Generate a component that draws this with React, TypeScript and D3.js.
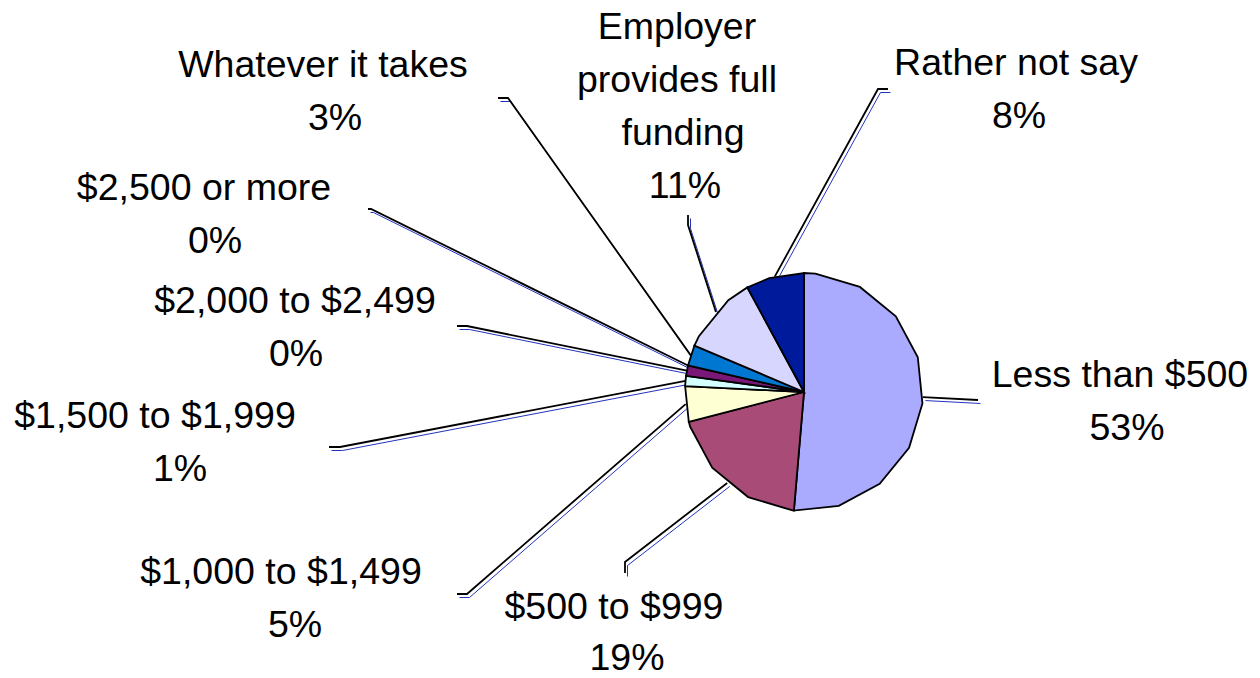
import React from "react";
import * as d3 from "d3";

// ---- data ----
const categories = [
  "Less than $500",
  "$500 to $999",
  "$1,000 to $1,499",
  "$1,500 to $1,999",
  "$2,000 to $2,499",
  "$2,500 or more",
  "Whatever it takes",
  "Employer provides full funding",
  "Rather not say",
];
// slice sizes (percent of the circle)
const shares = [51.3, 19.6, 4.8, 1.4, 1.4, 0, 2.8, 10.7, 7.9];
// percentage labels as printed on the chart
const pctLabels = ["53%", "19%", "5%", "1%", "0%", "0%", "3%", "11%", "8%"];
const nameLines = [
  ["Less than $500"],
  ["$500 to $999"],
  ["$1,000 to $1,499"],
  ["$1,500 to $1,999"],
  ["$2,000 to $2,499"],
  ["$2,500 or more"],
  ["Whatever it takes"],
  ["Employer", "provides full", "funding"],
  ["Rather not say"],
];
const colors = [
  "#AAAAFF",
  "#A84B77",
  "#FFFFD4",
  "#D4FFFF",
  "#7A1878",
  "#FF8080",
  "#0077D0",
  "#D6D6FF",
  "#001A9C",
];

// ---- layout ----
const W = 1260;
const H = 678;
const CX = 804;
const CY = 392;
const R = 119;
const LINE_H = 53;
// label: [name line center xs], first baseline y, pct center x
const labelLayout = [
  { xs: [1120], y: 387, px: 1127 },
  { xs: [614], y: 619, px: 627 },
  { xs: [281], y: 584, px: 295 },
  { xs: [155], y: 428, px: 180 },
  { xs: [295], y: 313, px: 296 },
  { xs: [204], y: 200, px: 215 },
  { xs: [323], y: 77, px: 335 },
  { xs: [677, 677, 683], y: 39, px: 685 },
  { xs: [1016], y: 75, px: 1019 },
];
// leader: elbow point and end point (toward label)
const leaderLayout = [
  { elbow: [978, 400], end: [978, 400] },
  { elbow: [625, 562], end: [625, 573] },
  { elbow: [467, 594], end: [457, 594] },
  { elbow: [340, 447], end: [329, 447] },
  { elbow: [467, 326], end: [457, 326] },
  { elbow: [371, 209], end: [368, 209] },
  { elbow: [508, 98], end: [498, 98] },
  { elbow: [688, 225], end: [688, 215] },
  { elbow: [878, 89], end: [888, 89] },
];

const ptAt = (a: number, r: number): [number, number] => [
  CX + r * Math.sin(a),
  CY - r * Math.cos(a),
];

function slicePath(a0: number, a1: number): string {
  const pts: [number, number][] = [[CX, CY], ptAt(a0, R)];
  for (let k = 0; k < 16; k++) {
    const g = ((5.5 + 22.5 * k) * Math.PI) / 180;
    if (g > a0 + 0.01 && g < a1 - 0.01) pts.push(ptAt(g, R));
  }
  pts.push(ptAt(a1, R));
  return (d3.line()(pts) || "") + "Z";
}

export default function App() {
  const arcs = d3
    .pie<number>()
    .sort(null)
    .value((d) => d)
    .startAngle(0)
    .endAngle(2 * Math.PI)(shares);

  const line = d3.line();
  const font = "'Liberation Sans', Arial, Helvetica, sans-serif";

  return (
    <svg
      width={W}
      height={H}
      viewBox={`0 0 ${W} ${H}`}
      style={{ position: "absolute", left: 0, top: 0, background: "#fff" }}
    >
      {/* leader lines */}
      {arcs.map((a, i) => {
        const mid = (a.startAngle + a.endAngle) / 2;
        const p0 = ptAt(mid, R);
        const L = leaderLayout[i];
        const pts: [number, number][] = [
          p0,
          L.elbow as [number, number],
          L.end as [number, number],
        ];
        const blue: [number, number][] = pts.map(
          ([x, y]) => [x + 2.5, y + 3.5] as [number, number]
        );
        return (
          <g key={"l" + i}>
            <path
              d={line(blue) || ""}
              fill="none"
              stroke="#2233BB"
              strokeWidth={1}
            />
            <path
              d={line(pts) || ""}
              fill="none"
              stroke="#000"
              strokeWidth={1.8}
            />
          </g>
        );
      })}
      {/* slices */}
      {arcs.map((a, i) =>
        a.endAngle - a.startAngle > 0.0001 ? (
          <path
            key={"s" + i}
            d={slicePath(a.startAngle, a.endAngle)}
            fill={colors[i]}
            stroke="#000"
            strokeWidth={1.8}
            strokeLinejoin="miter"
          />
        ) : null
      )}
      {/* labels */}
      {categories.map((c, i) => {
        const lay = labelLayout[i];
        const lines = nameLines[i];
        return (
          <text
            key={"t" + i}
            fontFamily={font}
            fontSize={37.5}
            fill="#000"
            textAnchor="middle"
          >
            {lines.map((ln, j) => (
              <tspan key={j} x={lay.xs[j]} y={lay.y + j * LINE_H}>
                {ln}
              </tspan>
            ))}
            <tspan x={lay.px} y={lay.y + lines.length * LINE_H - (i === 1 ? 2 : 0)}>
              {pctLabels[i]}
            </tspan>
          </text>
        );
      })}
    </svg>
  );
}
